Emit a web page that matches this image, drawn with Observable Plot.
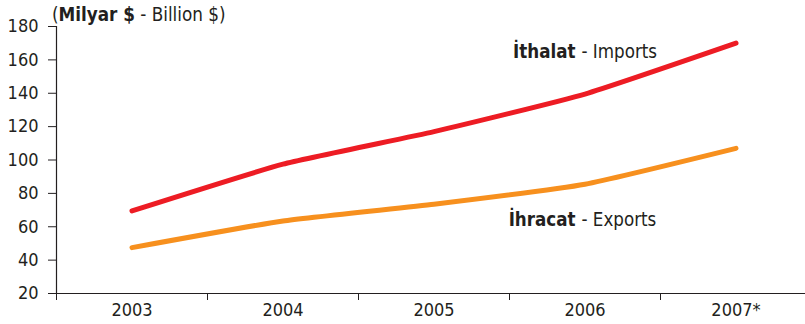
<!DOCTYPE html>
<html>
<head>
<meta charset="utf-8">
<script src="https://cdn.jsdelivr.net/npm/d3@7"></script>
<script src="https://cdn.jsdelivr.net/npm/@observablehq/plot@0.6"></script>
<style>
  html, body { margin: 0; padding: 0; background: #fff; }
  #wrap { position: relative; width: 805px; height: 324px; overflow: hidden; }
  #title { position: absolute; left: 52px; top: 4px; font-family: "DejaVu Sans Condensed", "DejaVu Sans", sans-serif; font-size: 18.7px; color: #231f20; white-space: nowrap; line-height: 22px; }
</style>
</head>
<body>
<div id="wrap">
  <div id="chart"></div>
  <div id="title">(<b>Milyar $</b> - Billion $)</div>
</div>
<script>
const years = ["2003", "2004", "2005", "2006", "2007*"];
const imports = [69.5, 97.5, 117, 139.5, 170];
const exports = [47.5, 63.5, 73.5, 85.5, 107];
const yTicks = [20, 40, 60, 80, 100, 120, 140, 160, 180];
const seriesNames = {imports: ["İthalat", "- Imports"], exports: ["İhracat", "- Exports"]};

const idx = years.map((_, i) => i);
const rowsImp = idx.map(i => ({i, v: imports[i]}));
const rowsExp = idx.map(i => ({i, v: exports[i]}));
const boundaries = d3.range(-0.5, years.length + 0.5, 1);

const ink = "#231f20";
const font = '"DejaVu Sans Condensed", "DejaVu Sans", sans-serif';

const chart = Plot.plot({
  width: 805,
  height: 324,
  marginTop: 26,
  marginBottom: 31,
  marginLeft: 56,
  marginRight: 0,
  style: {fontFamily: font, fontSize: "18px", color: ink, background: "#fff"},
  x: {type: "linear", domain: [-0.5, years.length - 0.5], range: [56, 811]},
  y: {domain: [20, 180], range: [293, 26]},
  marks: [
    Plot.ruleY([20], {stroke: ink, strokeWidth: 1.2}),
    Plot.ruleX([-0.5], {y1: 20, y2: 180, stroke: ink, strokeWidth: 1.2}),
    Plot.axisY({ticks: yTicks, tickSize: 8, tickPadding: 10, label: null, stroke: ink, fill: ink}),
    Plot.axisX({ticks: boundaries, tickSize: 7, tickFormat: () => "", label: null, stroke: ink}),
    Plot.axisX({ticks: idx, tickSize: 0, tickPadding: 10, tickFormat: i => years[i], label: null, fill: ink}),
    Plot.line(rowsImp, {x: "i", y: "v", stroke: "#ed1c24", strokeWidth: 5, curve: "cardinal", tension: 0.55, strokeLinecap: "round", strokeLinejoin: "round"}),
    Plot.line(rowsExp, {x: "i", y: "v", stroke: "#f7901e", strokeWidth: 5, curve: "cardinal", tension: 0.55, strokeLinecap: "round", strokeLinejoin: "round"}),
    Plot.text([seriesNames.imports[0]], {x: 2.957, y: 161.4, text: d => d, textAnchor: "end", lineAnchor: "bottom", dx: -3, fontWeight: "bold", fontSize: 18.6, fill: ink}),
    Plot.text([seriesNames.imports[1]], {x: 2.957, y: 161.4, text: d => d, textAnchor: "start", lineAnchor: "bottom", dx: 3, fontSize: 18.6, fill: ink}),
    Plot.text([seriesNames.exports[0]], {x: 2.957, y: 60.7, text: d => d, textAnchor: "end", lineAnchor: "bottom", dx: -3, fontWeight: "bold", fontSize: 18.6, fill: ink}),
    Plot.text([seriesNames.exports[1]], {x: 2.957, y: 60.7, text: d => d, textAnchor: "start", lineAnchor: "bottom", dx: 3, fontSize: 18.6, fill: ink})
  ]
});
document.getElementById("chart").appendChild(chart);
</script>
</body>
</html>
